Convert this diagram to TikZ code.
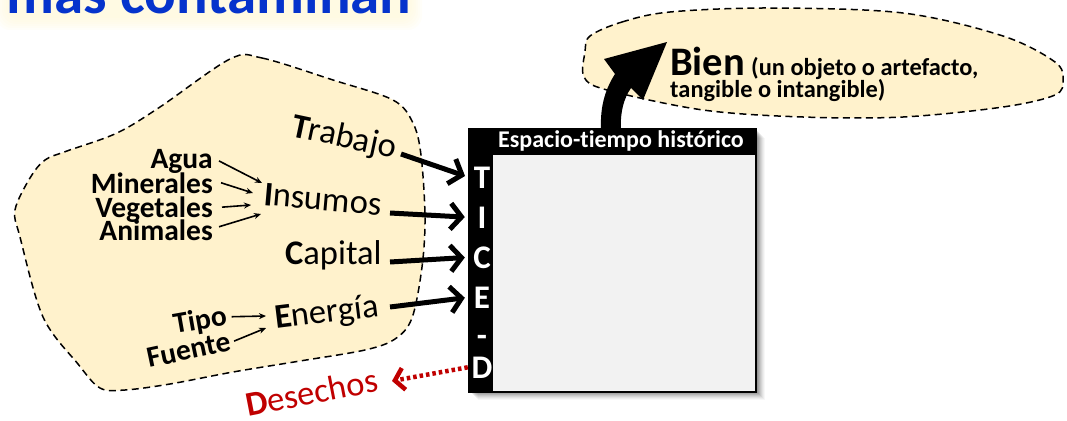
\documentclass[tikz,border=0pt]{standalone}
\usepackage{fontspec}
\setmainfont[Ligatures=NoCommon]{Carlito}
\usetikzlibrary{arrows.meta}
\definecolor{cream}{HTML}{FFF2CC}
\definecolor{boxgray}{HTML}{F2F2F2}
\definecolor{darkred}{HTML}{C00000}
\definecolor{titleblue}{HTML}{0533CC}
\definecolor{glow}{HTML}{FFF6D0}
\begin{document}
\begin{tikzpicture}[x=1pt,y=-1pt,
  region/.style={draw=black, fill=cream, line width=1.5pt, dash pattern=on 7pt off 4.5pt},
  biglab/.style={font=\fontsize{34.5}{34.5}\selectfont, inner sep=0, anchor=base west},
  smlab/.style={font=\fontsize{29.5}{29.5}\selectfont\bfseries, inner sep=0},
  letter/.style={font=\fontsize{33}{33}\selectfont\bfseries, text=white, inner sep=0, minimum width=26pt, anchor=base},
  bigarrow/.style={line width=5pt, -{Straight Barb[length=11pt,width=26pt,line width=5pt]}, shorten >=4pt},
  smarrow/.style={line width=1.6pt, -{Stealth[length=7pt,width=6pt]}},
  redarrow/.style={draw=darkred, line width=4.5pt, dash pattern=on 3.5pt off 3pt, -{Straight Barb[length=9pt,width=22pt,line width=4.5pt,sep=0pt]}}
]
\useasboundingbox (0,0) rectangle (1067,420);

% title glow and title (cut off at top)
\foreach \g in {0,2,4,6,8,10,12} {
  \fill[glow, opacity=0.12, rounded corners=14pt] (8-\g,-20) rectangle (410+\g,18+\g);
}
\node[anchor=base west, inner sep=0, text=titleblue, font=\fontsize{59}{59}\selectfont\bfseries] (title) at (6,14) {mas contaminan};

% left region
\draw[region] plot[smooth cycle, tension=0.55] coordinates {
  (230,59) (262,58) (333,80) (393,100) (413,123) (421,155) (425,217) (422,267)
  (412,318) (395,339) (365,350) (300,361) (233,372) (170,384) (125,390) (100,388)
  (78,364) (43,317) (20,237) (15,210) (30,178) (45,160) (67,151) (117,133) (160,107)};

% Bien region
\draw[region] plot[smooth cycle, tension=0.55] coordinates {
  (590,36) (622,22) (670,12) (770,8) (903,13) (1003,36) (1055,62) (1063,80)
  (1055,95) (1003,107) (903,117) (803,117) (703,110) (607,90) (584,77) (585,52)};

% box shadow
\foreach \i/\o in {1/0.10,2/0.09,3/0.08,4/0.07,5/0.06,6/0.05,7/0.04,8/0.03} {
  \fill[black, opacity=\o] (470+\i,130+\i) rectangle (757+\i,392+\i);
}
% main box
\fill[black] (468,128) rectangle (757,393);
\fill[boxgray] (493,155) rectangle (755,391);
\node[anchor=base west, inner sep=0, text=white, font=\fontsize{24}{24}\selectfont\bfseries] (esp) at (498,147) {Espacio-tiempo histórico};

\node[letter] (lT) at (482,188) {T};
\node[letter] (lI) at (482,228) {I};
\node[letter] (lC) at (482,268) {C};
\node[letter] (lE) at (482,308) {E};
\node[letter] (lH) at (482,346) {-};
\node[letter] (lD) at (482,378) {D};

% curved output arrow
\fill[black] (601,129) .. controls (600,105) and (606,88) .. (615,74)
  -- (604,59) -- (667,42) -- (643,100) -- (631,88)
  .. controls (624,98) and (620,112) .. (621,129) -- cycle;

% Bien text
\node[anchor=base west, inner sep=0, font=\fontsize{40.5}{40.5}\selectfont\bfseries] (bien) at (670,75) {Bien};
\node[anchor=base west, inner sep=0, font=\fontsize{24.4}{24.4}\selectfont\bfseries] (bienA) at (751,75) {(un objeto o artefacto,};
\node[anchor=base west, inner sep=0, font=\fontsize{24.4}{24.4}\selectfont\bfseries] (bienB) at (670,97) {tangible o intangible)};

% main factor labels
\node[biglab, rotate=-12] (trab) at (290,136) {\textbf{T}rabajo};
\node[biglab, rotate=-5] (ins) at (263,205) {\textbf{I}nsumos};
\node[biglab] (cap) at (285,264) {\textbf{C}apital};
\node[biglab, rotate=7] (ene) at (276,329) {\textbf{E}nergía};

% sub labels
\node[smlab, anchor=base east] (agua) at (213,168) {Agua};
\node[smlab, anchor=base east] (min) at (213,193) {Minerales};
\node[smlab, anchor=base east] (veg) at (213,217) {Vegetales};
\node[smlab, anchor=base east] (ani) at (213,240) {Animales};
\node[smlab, anchor=base west, rotate=10] (tipo) at (175,334) {Tipo};
\node[smlab, anchor=base west, rotate=12] (fue) at (149,368) {Fuente};

% Desechos
\node[biglab, rotate=11, text=darkred] (des) at (248,417) {\textbf{D}esechos};

% coordinates for free ends
\coordinate (tTrab) at (401,154);
\coordinate (tIns) at (390,213);
\coordinate (tCap) at (390,262);
\coordinate (tEne) at (390,307);
\coordinate (hAgua) at (262,183);
\coordinate (hMin) at (253,193);
\coordinate (hVeg) at (251,205);
\coordinate (hAni) at (261,214);
\coordinate (hTipo) at (266,316);
\coordinate (hFue) at (266,328);
\coordinate (hDes) at (392,381);

% big arrows
\draw[bigarrow] (tTrab) -- (lT.west);
\draw[bigarrow] (tIns) -- (lI.west);
\draw[bigarrow] (tCap) -- (lC.west);
\draw[bigarrow] (tEne) -- (lE.west);

% small arrows
\draw[smarrow] ([xshift=6pt]agua.east) -- (hAgua);
\draw[smarrow] ([xshift=8pt]min.east) -- (hMin);
\draw[smarrow] ([xshift=9pt,yshift=2pt]veg.east) -- (hVeg);
\draw[smarrow] ([xshift=6pt,yshift=3pt]ani.east) -- (hAni);
\draw[smarrow] ([xshift=5pt]tipo.east) -- (hTipo);
\draw[smarrow] ([xshift=4pt]fue.east) -- (hFue);

% waste arrow
\draw[redarrow] ([xshift=-1pt]lD.west) -- (hDes);
\end{tikzpicture}
\end{document}
